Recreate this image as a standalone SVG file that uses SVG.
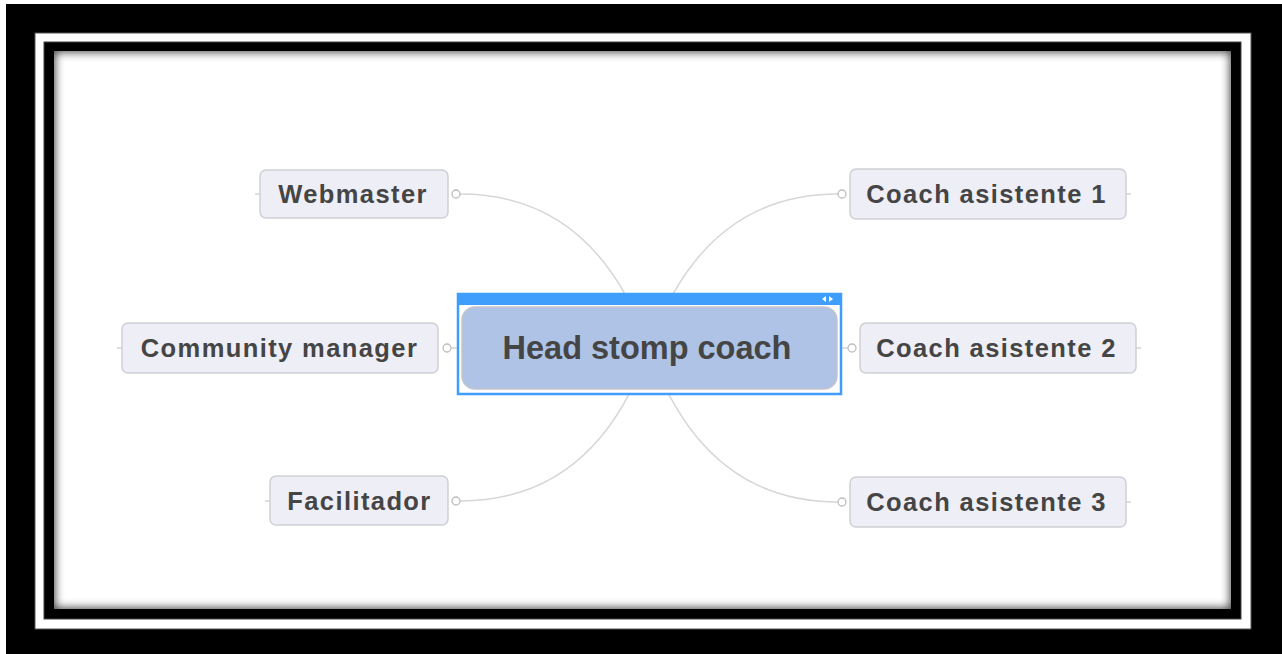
<svg xmlns="http://www.w3.org/2000/svg" width="1282" height="654" viewBox="0 0 1282 654">
<defs>
<style>
.node rect{fill:#eeeef6;stroke:#cfcfd6;stroke-width:1.5}
.node text{font-family:"Liberation Sans",Arial,sans-serif;font-weight:bold;font-size:25.5px;letter-spacing:1.4px;fill:#454545;text-anchor:middle}
.conn{fill:none;stroke:#d6d6d6;stroke-width:1.5}
.dot{fill:#fff;stroke:#bdbdbd;stroke-width:1.3}
.stub{stroke:#c8c8c8;stroke-width:1.2}
</style>
<clipPath id="content"><rect x="54" y="51" width="1177" height="558"/></clipPath>
<filter id="blur" x="-5%" y="-5%" width="110%" height="110%"><feGaussianBlur stdDeviation="5"/></filter>
</defs>
<rect x="0" y="0" width="1282" height="654" fill="#fff"/>
<rect x="6" y="4" width="1276" height="650" fill="#000"/>
<rect x="35" y="33" width="1216" height="596" fill="#fff" stroke="#555" stroke-width="1"/>
<rect x="44" y="42" width="1197" height="577" fill="#000" stroke="#444" stroke-width="1"/>
<rect x="54" y="51" width="1177" height="558" fill="#fff"/>
<g clip-path="url(#content)">
<rect x="48" y="45" width="1189" height="570" fill="none" stroke="#000" stroke-width="14" filter="url(#blur)" opacity="0.75"/>
</g>
<g id="connectors">
<path class="conn" d="M460 194 Q595 194 649 348"/>
<path class="conn" d="M460 501 Q595 501 649 348"/>
<path class="conn" d="M838 194 Q703 194 649 348"/>
<path class="conn" d="M838 502 Q703 502 649 348"/>
<line class="conn" x1="451" y1="348" x2="462" y2="348"/>
<line class="conn" x1="838" y1="348" x2="848" y2="348"/>
<line class="stub" x1="255" y1="194" x2="260" y2="194"/>
<line class="stub" x1="117" y1="348" x2="122" y2="348"/>
<line class="stub" x1="265" y1="501" x2="270" y2="501"/>
<line class="stub" x1="1126" y1="194" x2="1131" y2="194"/>
<line class="stub" x1="1136" y1="348" x2="1141" y2="348"/>
<line class="stub" x1="1126" y1="502" x2="1131" y2="502"/>
<circle class="dot" cx="456" cy="194" r="4"/>
<circle class="dot" cx="447" cy="348" r="4"/>
<circle class="dot" cx="456" cy="501" r="4"/>
<circle class="dot" cx="842" cy="194" r="4"/>
<circle class="dot" cx="852" cy="348" r="4"/>
<circle class="dot" cx="842" cy="502" r="4"/>
</g>
<g id="root">
<rect x="458" y="294" width="383" height="100" fill="#fff" stroke="#3f9dfb" stroke-width="2.5"/>
<rect x="458" y="294" width="383" height="11" fill="#3f9dfb"/>
<path d="M826 296 L822 299 L826 302 Z M829 296 L833 299 L829 302 Z" fill="#fff"/>
<rect x="462" y="307" width="375" height="82" rx="13" fill="#aec3e6" stroke="#c4c4cc" stroke-width="1.5"/>
<text x="647" y="359" font-family="Liberation Sans,Arial,sans-serif" font-weight="bold" font-size="32.5" fill="#454545" text-anchor="middle">Head stomp coach</text>
</g>
<g id="n-webmaster" class="node"><rect x="260" y="170" width="188" height="48" rx="6"/><text x="353" y="203">Webmaster</text></g>
<g id="n-community" class="node"><rect x="122" y="323" width="316" height="50" rx="6"/><text x="279.5" y="357">Community manager</text></g>
<g id="n-facilitador" class="node"><rect x="270" y="476" width="178" height="49" rx="6"/><text x="359.5" y="510">Facilitador</text></g>
<g id="n-coach1" class="node"><rect x="850" y="169" width="276" height="50" rx="6"/><text x="986.5" y="203">Coach asistente 1</text></g>
<g id="n-coach2" class="node"><rect x="860" y="323" width="276" height="50" rx="6"/><text x="996.5" y="357">Coach asistente 2</text></g>
<g id="n-coach3" class="node"><rect x="850" y="477" width="276" height="50" rx="6"/><text x="986.5" y="511">Coach asistente 3</text></g>
</svg>
